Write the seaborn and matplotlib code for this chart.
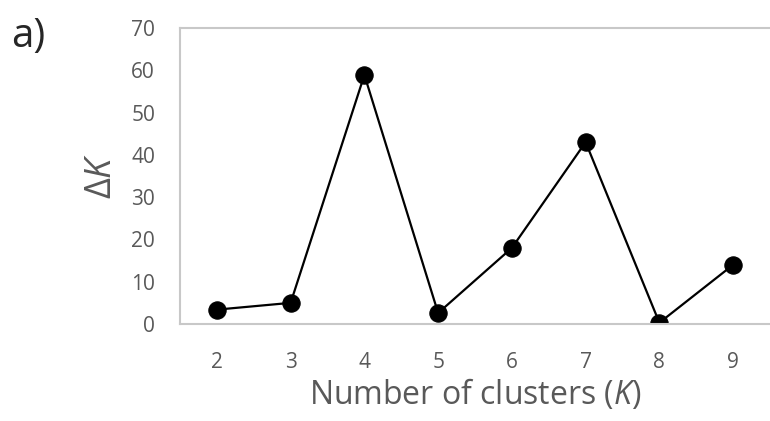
import matplotlib
matplotlib.use("Agg")
import matplotlib.pyplot as plt
import seaborn as sns
import pandas as pd

# values
clusters = [2, 3, 4, 5, 6, 7, 8, 9]
delta_k = [3.4, 5.0, 58.9, 2.6, 18.0, 43.0, 0.3, 14.0]
y_ticks = [0, 10, 20, 30, 40, 50, 60, 70]

sns.set_style("white")
plt.rcParams['font.family'] = ['Open Sans', 'DejaVu Sans']
plt.rcParams['mathtext.fontset'] = 'custom'
plt.rcParams['mathtext.it'] = 'Open Sans:italic'
plt.rcParams['mathtext.rm'] = 'Open Sans'

df = pd.DataFrame({"K": clusters, "dK": delta_k})

fig = plt.figure(figsize=(7.7, 4.21), dpi=100)
ax = fig.add_axes([0.2338, 0.2304, 0.7662, 0.7031])

sns.lineplot(data=df, x="K", y="dK", color="black", linewidth=1.6,
             marker="o", markersize=12.5, markerfacecolor="black",
             markeredgecolor="black", ax=ax)

ax.set_xlim(1.5, 9.5)
ax.set_ylim(0, 70)
ax.set_xticks(clusters)
ax.set_yticks(y_ticks)
ax.tick_params(axis="both", length=0, labelsize=15, labelcolor="#595959")
ax.tick_params(axis="x", pad=20)
ax.tick_params(axis="y", pad=18)

for side in ["top", "bottom", "left"]:
    ax.spines[side].set_visible(True)
    ax.spines[side].set_color("#c8c8c8")
    ax.spines[side].set_linewidth(1.5)
ax.spines["right"].set_visible(False)

ax.set_xlabel("Number of clusters ($K$)", fontsize=23, color="#595959", labelpad=3)
ax.set_ylabel("Δ$K$", fontsize=26, color="#595959", labelpad=8)

fig.text(0.014, 0.96, "a)", fontsize=29, color="#262626", va="top", ha="left")

fig.savefig("out.png", dpi=100)
